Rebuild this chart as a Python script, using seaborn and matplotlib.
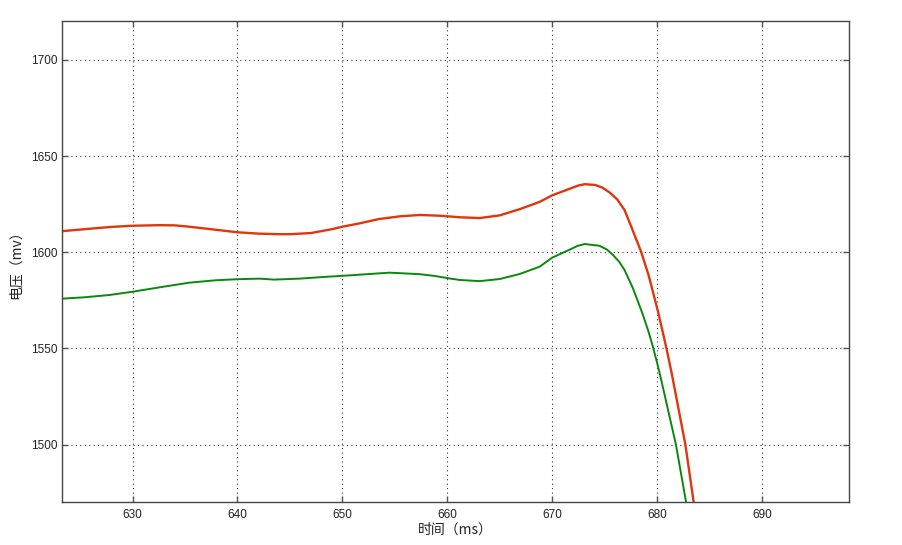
import seaborn as sns
import pandas as pd
import matplotlib
matplotlib.use("Agg")
import matplotlib.pyplot as plt

# values
red_t = [623.3, 625.4, 628.0, 630.0, 632.6, 634.0, 635.4, 637.0, 640.0, 642.0,
         644.0, 645.0, 647.0, 649.0, 650.0, 651.6, 653.5, 655.5, 657.4, 659.3,
         661.2, 663.1, 665.0, 666.9, 668.8, 670.0, 671.8, 672.5, 673.1, 674.1,
         674.8, 675.5, 676.2, 676.9, 677.6, 678.5, 679.2, 680.1, 680.9, 681.4,
         682.7, 683.6]
red_v = [1611.0, 1612.0, 1613.2, 1613.8, 1614.1, 1614.0, 1613.3, 1612.3, 1610.4, 1609.7,
         1609.4, 1609.4, 1610.0, 1612.0, 1613.3, 1615.0, 1617.3, 1618.7, 1619.4, 1619.0,
         1618.2, 1617.8, 1619.2, 1622.4, 1626.2, 1629.6, 1633.3, 1634.7, 1635.4, 1635.0,
         1633.6, 1631.0, 1627.5, 1622.0, 1612.5, 1600.0, 1588.0, 1569.0, 1550.0, 1537.0,
         1500.0, 1466.0]

green_t = [623.3, 625.4, 627.8, 630.0, 632.6, 635.4, 637.8, 640.0, 642.1, 643.5,
           645.9, 648.3, 650.7, 653.1, 654.5, 656.0, 657.4, 658.8, 660.2, 661.2,
           663.1, 665.0, 666.9, 668.8, 670.0, 671.8, 672.4, 673.1, 674.5, 675.2,
           675.8, 676.4, 676.9, 677.7, 678.6, 679.2, 679.6, 680.1, 680.4, 681.8,
           682.9]
green_v = [1575.9, 1576.6, 1577.8, 1579.5, 1581.8, 1584.2, 1585.4, 1586.0, 1586.3, 1585.8,
           1586.3, 1587.2, 1588.0, 1588.9, 1589.4, 1589.0, 1588.6, 1587.7, 1586.4, 1585.6,
           1585.0, 1586.1, 1588.7, 1592.5, 1597.2, 1601.7, 1603.3, 1604.3, 1603.4, 1601.5,
           1598.6, 1595.0, 1590.8, 1581.3, 1568.3, 1558.5, 1551.0, 1540.5, 1533.6, 1500.0,
           1466.0]

x_ticks = [630, 640, 650, 660, 670, 680, 690]
y_ticks = [1500, 1550, 1600, 1650, 1700]

sns.set_theme(style="white")
plt.rcParams['font.family'] = ['Noto Sans CJK SC', 'DejaVu Sans']

df = pd.concat([
  pd.DataFrame({'t': red_t, 'v': red_v, 'series': 'red'}),
  pd.DataFrame({'t': green_t, 'v': green_v, 'series': 'green'}),
])

fig = plt.figure(figsize=(9.03, 5.45), dpi=100)
ax = fig.add_axes([0.069, 0.0783, 0.8712, 0.8837])

sns.lineplot(data=df[df.series == 'red'], x='t', y='v', color='#e0360e',
             linewidth=1.7, estimator=None, sort=False, ax=ax)
sns.lineplot(data=df[df.series == 'green'], x='t', y='v', color='#0b880b',
             linewidth=1.4, estimator=None, sort=False, ax=ax)

ax.set_xlim(623.3, 698.3)
ax.set_ylim(1470, 1720.4)
ax.set_xticks(x_ticks)
ax.set_yticks(y_ticks)
ax.grid(True, linestyle=(0, (1, 3)), color='#333333', linewidth=0.8)
ax.tick_params(direction='in', length=4, width=1, color='#555555',
               top=True, right=True, bottom=True, left=True,
               labelsize=8.5, labelcolor='#222222')
ax.tick_params(axis='x', pad=5)
ax.tick_params(axis='y', pad=3.5)
for lbl in ax.get_xticklabels() + ax.get_yticklabels():
  lbl.set_family(['Liberation Sans', 'DejaVu Sans'])
for s in ax.spines.values():
  s.set_color('#444444')
  s.set_linewidth(1.0)

ax.set_xlabel('时间（ms）', fontsize=10, labelpad=1, color='#222222')
ax.set_ylabel('电压（mv）', fontsize=10, labelpad=6, color='#222222')

fig.savefig('out.png', dpi=100)
